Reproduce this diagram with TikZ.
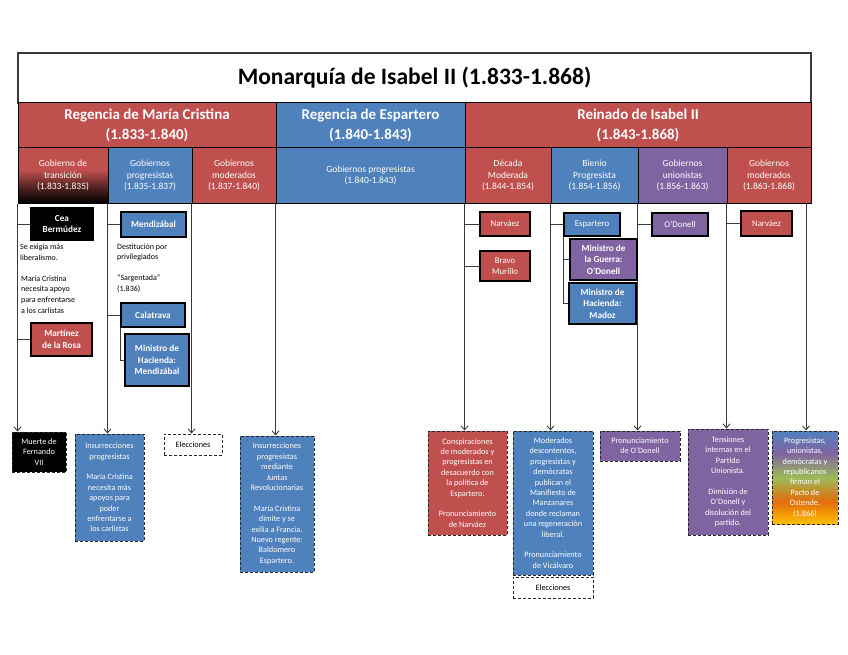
\documentclass[tikz,border=0pt]{standalone}
\usepackage{fontspec}
\setmainfont{Carlito}
\usetikzlibrary{arrows.meta}
\definecolor{cRed}{HTML}{C0504D}
\definecolor{cBlue}{HTML}{4F81BD}
\definecolor{cPurple}{HTML}{8064A2}
\definecolor{cGreen}{HTML}{9BBB59}
\definecolor{cOrange}{HTML}{E46C0A}
\definecolor{cYellow}{HTML}{FFC000}
\definecolor{cLine}{HTML}{3A3A3A}
\pgfdeclareverticalshading{redblack}{100bp}{color(0bp)=(black); color(25bp)=(black); color(40bp)=(cRed!45!black); color(55bp)=(cRed); color(75bp)=(cRed); color(100bp)=(cRed)}
\pgfdeclareverticalshading{rainbowshade}{100bp}{color(0bp)=(cYellow); color(25bp)=(cYellow); color(37bp)=(cOrange); color(50bp)=(cGreen); color(63bp)=(cPurple); color(75bp)=(cBlue); color(100bp)=(cBlue)}
\tikzset{
  titlebox/.style={draw=cLine, line width=1.5pt, fill=white, inner sep=0pt, font=\bfseries\fontsize{23.5}{28}\selectfont},
  hdr/.style={draw=black, line width=1pt, text=white, inner sep=0pt, align=center, minimum height=45pt, font=\bfseries\fontsize{15}{19.5}\selectfont},
  sub/.style={draw=black, line width=1pt, text=white, inner sep=0pt, align=center, minimum height=55pt, font=\fontsize{9.5}{11.6}\selectfont},
  ubox/.style={draw=black, line width=1.3pt, text=white, inner sep=0pt, align=center, font=\bfseries\fontsize{9.2}{11.5}\selectfont},
  uboxl/.style={draw=black, line width=1.3pt, text=white, inner sep=0pt, align=center, font=\fontsize{8.8}{11}\selectfont},
  lbox/.style={draw=black!85, line width=1pt, densely dashed, text=white, inner sep=0pt, align=center, font=\fontsize{8.2}{10.4}\selectfont},
  note/.style={inner sep=0pt, align=left, anchor=north west, font=\fontsize{8}{10.6}\selectfont},
  conn/.style={draw=cLine, line width=0.9pt},
  arr/.style={conn, -{Straight Barb[length=4pt,width=7pt]}},
}
\begin{document}
\begin{tikzpicture}[x=1pt,y=-1pt]
\useasboundingbox[fill=white] (0,0) rectangle (848,655);

% title
\node[titlebox, minimum width=793, minimum height=50] (title) at (414.5,78) {Monarquía de Isabel II (1.833-1.868)};

% row 2
\node[hdr, fill=cRed, minimum width=258] (rmc) at (147,125.5) {Regencia de María Cristina\\(1.833-1.840)};
\node[hdr, fill=cBlue, minimum width=189] (rep) at (370.5,125.5) {Regencia de Espartero\\(1.840-1.843)};
\node[hdr, fill=cRed, minimum width=346] (rei) at (638,125.5) {Reinado de Isabel II\\(1.843-1.868)};

% row 3
\node[sub, shading=redblack, minimum width=90] (c1) at (63,175.5) {Gobierno de\\transición\\(1.833-1.835)};
\node[sub, fill=cBlue, minimum width=84] (c2) at (150,175.5) {Gobiernos\\progresistas\\(1.835-1.837)};
\node[sub, fill=cRed, minimum width=84] (c3) at (234,175.5) {Gobiernos\\moderados\\(1.837-1.840)};
\node[sub, fill=cBlue, minimum width=189] (c4) at (370.5,175.5) {Gobiernos progresistas\\(1.840-1.843)};
\node[sub, fill=cRed, minimum width=86] (c5) at (508,175.5) {Década\\Moderada\\(1.844-1.854)};
\node[sub, fill=cBlue, minimum width=87] (c6) at (594.5,175.5) {Bienio\\Progresista\\(1.854-1.856)};
\node[sub, fill=cPurple, minimum width=89] (c7) at (682.5,175.5) {Gobiernos\\unionistas\\(1.856-1.863)};
\node[sub, fill=cRed, minimum width=84] (c8) at (769,175.5) {Gobiernos\\moderados\\(1.863-1.868)};
\coordinate (r9) at (806,203);

% bottom boxes
\node[lbox, fill=black, minimum width=54, minimum height=40] (b1) at (39,452) {Muerte de\\Fernando\\VII};
\node[lbox, fill=cBlue, minimum width=69, minimum height=107] (b2) at (109.5,487.5) {Insurrecciones\\progresistas\\[10.4pt]María Cristina\\necesita más\\apoyos para\\poder\\enfrentarse a\\los carlistas};
\node[lbox, fill=white, text=black, minimum width=58, minimum height=21] (b3) at (193,444.5) {Elecciones};
\node[lbox, fill=cBlue, minimum width=74, minimum height=136] (b4) at (277,504) {Insurrecciones\\progresistas\\mediante\\Juntas\\Revolucionarias\\[10.4pt]María Cristina\\dimite y se\\exilia a Francia.\\Nuevo regente:\\Baldomero\\Espartero.};
\node[lbox, fill=cRed, minimum width=79, minimum height=104] (b5) at (467.5,483) {Conspiraciones\\de moderados y\\progresistas en\\desacuerdo con\\la política de\\Espartero.\\[10.4pt]Pronunciamiento\\de Narváez};
\node[lbox, fill=cBlue, minimum width=80, minimum height=144] (b6) at (553,503) {Moderados\\descontentos,\\progresistas y\\demócratas\\publican el\\Manifiesto de\\Manzanares\\donde reclaman\\una regeneración\\liberal.\\[10.4pt]Pronunciamiento\\de Vicálvaro};
\node[lbox, fill=white, text=black, minimum width=80, minimum height=21] (b6e) at (553,587.5) {Elecciones};
\node[lbox, fill=cPurple, minimum width=80, minimum height=30] (b7) at (640,446) {Pronunciamiento\\de O’Donell};
\node[lbox, fill=cPurple, minimum width=80, minimum height=106] (b8) at (728,482) {Tensiones\\internas en el\\Partido\\Unionista.\\[10.4pt]Dimisión de\\O’Donell y\\disolución del\\partido.};
\node[lbox, shading=rainbowshade, minimum width=66, minimum height=93] (b9) at (805,477.5) {Progresistas,\\unionistas,\\demócratas y\\republicanos\\firman el\\Pacto de\\Ostende.\\(1.866)};

% arrows
\draw[arr] (c1.south west) -- (c1.south west |- b1.north);
\draw[arr] (c2.south west) -- (c2.south west |- b2.north);
\draw[arr] (c3.south west) -- (c3.south west |- b3.north);
\draw[arr] (c4.south west) -- (c4.south west |- b4.north);
\draw[arr] (c5.south west) -- (c5.south west |- b5.north);
\draw[arr] (c6.south west) -- (c6.south west |- b6.north);
\draw[arr] (c7.south west) -- (c7.south west |- b7.north);
\draw[arr] (c8.south west) -- (c8.south west |- b8.north);
\draw[arr] (r9) -- (r9 |- b9.north);

% upper boxes
\node[ubox, fill=black, minimum width=62, minimum height=32] (cea) at (62,224) {Cea\\Bermúdez};
\node[ubox, fill=cRed, minimum width=61, minimum height=33] (mdr) at (61.5,339.5) {Martínez\\de la Rosa};
\node[ubox, fill=cBlue, minimum width=65, minimum height=25] (men) at (153.5,224.5) {Mendizábal};
\node[ubox, fill=cBlue, minimum width=64, minimum height=24] (cal) at (153,315) {Calatrava};
\node[ubox, fill=cBlue, minimum width=64, minimum height=52] (mhm) at (157,360) {Ministro de\\Hacienda:\\Mendizábal};
\node[uboxl, fill=cRed, minimum width=50, minimum height=24] (nar1) at (505,224) {Narváez};
\node[uboxl, fill=cRed, minimum width=50, minimum height=30] (bm) at (505,266) {};
\begin{scope}
\clip (481,252) rectangle (529,277);
\node[uboxl, draw=none, anchor=north] (bmt) at (505,257.5) {Bravo\\Murillo};
\end{scope}
\node[uboxl, fill=cBlue, minimum width=56, minimum height=23] (esp) at (592,224.5) {Espartero};
\node[ubox, fill=cPurple, minimum width=67, minimum height=41] (mg) at (603.5,259.5) {Ministro de\\la Guerra:\\O’Donell};
\node[ubox, fill=cBlue, minimum width=67, minimum height=41] (mh) at (602.5,303.5) {Ministro de\\Hacienda:\\Madoz};
\node[uboxl, fill=cPurple, minimum width=56, minimum height=23] (od) at (680,224.5) {O’Donell};
\node[uboxl, fill=cRed, minimum width=51, minimum height=25] (nar2) at (766.5,223.5) {Narváez};

% connectors
\draw[conn] (c1.south west |- cea.west) -- (cea.west);
\draw[conn] (c1.south west |- mdr.west) -- (mdr.west);
\draw[conn] (c2.south west |- men.west) -- (men.west);
\draw[conn] (c2.south west |- cal.west) -- (cal.west);
\draw[conn] (cal.south west) |- (mhm.west);
\draw[conn] (c5.south west |- nar1.west) -- (nar1.west);
\draw[conn] (c5.south west |- bm.west) -- (bm.west);
\draw[conn] (c6.south west |- esp.west) -- (esp.west);
\draw[conn] (esp.south west) |- (mg.west);
\draw[conn] (esp.south west) |- (mh.west);
\draw[conn] (c7.south west |- od.west) -- (od.west);
\draw[conn] (c8.south west |- nar2.west) -- (nar2.west);

% notes
\node[note] (t1) at (20,244) {Se exigía más\\liberalismo.};
\node[note] (t2) at (21,275.5) {María Cristina\\necesita apoyo\\para enfrentarse\\a los carlistas};
\node[note] (t3) at (117,243.5) {Destitución por\\privilegiados};
\node[note] (t4) at (117,274.5) {“Sargentada”\\(1.836)};
\end{tikzpicture}
\end{document}
